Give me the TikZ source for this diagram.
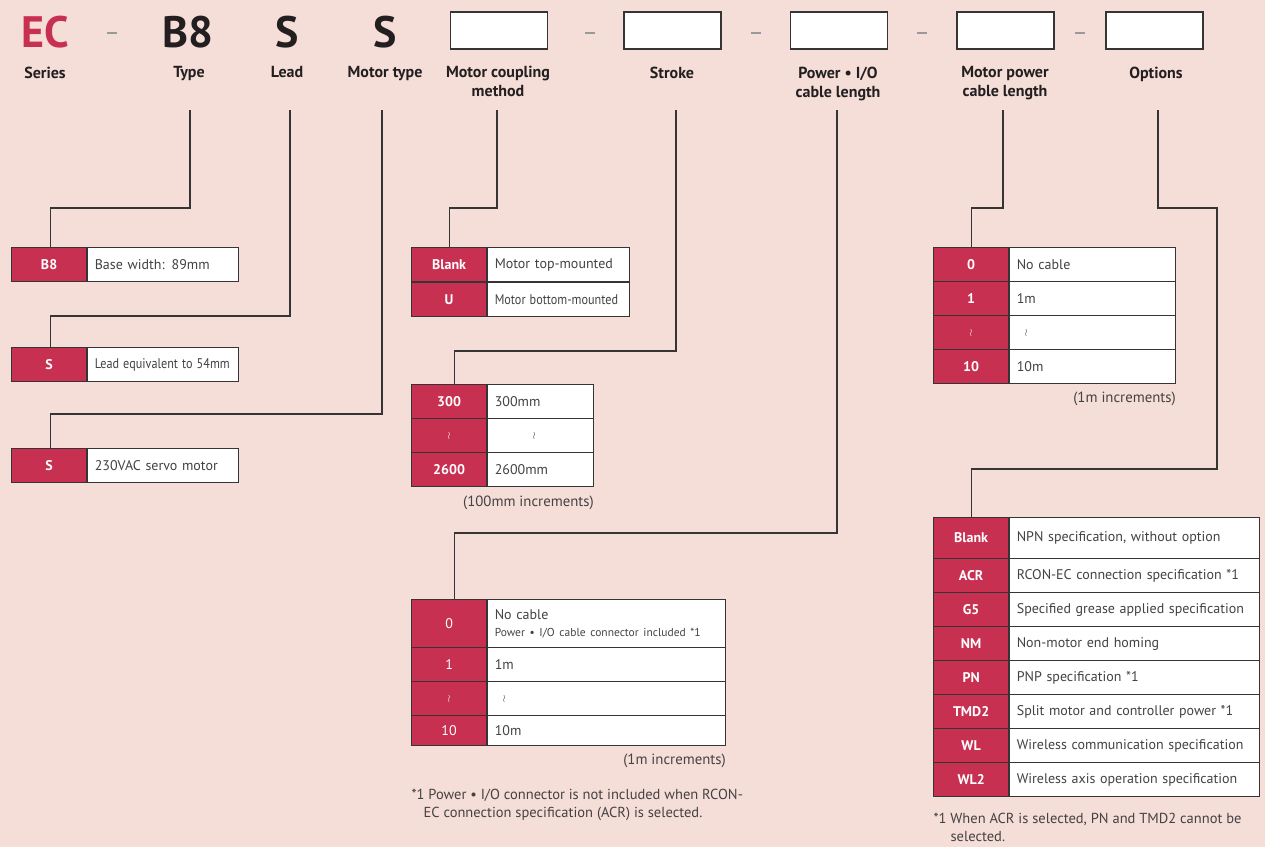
\documentclass[tikz,border=0pt]{standalone}
\usepackage{fontspec}
\usepackage{graphicx}
\setmainfont{PT Sans}
\usetikzlibrary{positioning}

\definecolor{bgpink}{RGB}{245,221,216}
\definecolor{ecred}{RGB}{200,48,82}
\definecolor{linegray}{RGB}{55,52,53}
\definecolor{inkblack}{RGB}{35,31,32}
\definecolor{descgray}{RGB}{68,66,66}

\newcommand\wavy{{\fontsize{10}{10}\selectfont$\wr$}}
\newcommand\narrow[1]{\scalebox{0.87}[1]{#1}}

\begin{document}
\begin{tikzpicture}[x=1pt, y=-1pt, line width=1.2pt,
    every node/.append style={inner sep=0pt},
    hdr/.style={font=\bfseries\fontsize{16}{19}\selectfont, text=inkblack, align=center, anchor=north},
    big/.style={font=\bfseries\fontsize{44}{44}\selectfont, text=inkblack},
    gap/.style={fill=gray!80, minimum width=10, minimum height=1.8},
    slot/.style={draw=linegray, fill=white, minimum width=97, minimum height=37},
    code/.style={draw=linegray, fill=ecred, text=white, font=\bfseries\fontsize{14}{16}\selectfont,
      minimum width=75, minimum height=34, anchor=north west},
    codethin/.style={code, font=\fontsize{14}{16}\selectfont},
    desc/.style={draw=linegray, fill=white, text=descgray, font=\fontsize{14}{17}\selectfont,
      minimum height=34, inner xsep=7pt, text width=#1, align=left, anchor=north west},
    note/.style={text=descgray, font=\fontsize{14.8}{17}\selectfont},
    footnote/.style={note, anchor=north west, align=left, font=\fontsize{14.5}{18}\selectfont},
    link/.style={draw=linegray, line width=1.2pt}]

  \fill[bgpink] (0,0) rectangle (1265,847);
  \useasboundingbox (0,0) rectangle (1265,847);

  % model code
  \node[big, text=ecred] (series) at (45,32) {EC};
  \node[gap] (gap1) at (112,33) {};
  \node[big] (type) at (188,32) {B8};
  \node[big] (lead) at (287,32) {S};
  \node[big] (motor) at (385,32) {S};
  \node[slot] (coupling) at (499,30.5) {};
  \node[gap] (gap2) at (590,33) {};
  \node[slot] (stroke) at (672.5,30.5) {};
  \node[gap] (gap3) at (756,33) {};
  \node[slot] (cable) at (839,30.5) {};
  \node[gap] (gap4) at (922,33) {};
  \node[slot] (mcable) at (1005.5,30.5) {};
  \node[gap] (gap5) at (1080,33) {};
  \node[slot] (option) at (1154.5,30.5) {};

  \node[hdr] (serieslbl) at (45,66) {Series};
  \node[hdr] (typelbl) at (189,66) {Type};
  \node[hdr] (leadlbl) at (287,66) {Lead};
  \node[hdr] (motorlbl) at (385,66) {Motor type};
  \node[hdr] (couplinglbl) at (498,66) {Motor coupling\\method};
  \node[hdr] (strokelbl) at (672,66) {Stroke};
  \node[hdr] (cablelbl) at (838,66) {Power • I/O\\cable length};
  \node[hdr] (mcablelbl) at (1005,66) {Motor power\\cable length};
  \node[hdr] (optionlbl) at (1156,66) {Options};

  % type, lead, motor
  \node[code] (b8) at (11,247) {B8};
  \node[desc=137pt] (b8desc) at (b8.north east) {Base width: 89mm};
  \node[code] (leadS) at (11,347) {S};
  \node[desc=137pt] (leaddesc) at (leadS.north east) {\narrow{Lead equivalent to 54mm}};
  \node[code] (motorS) at (11,448) {S};
  \node[desc=137pt] (motordesc) at (motorS.north east) {230VAC servo motor};

  % coupling
  \node[code] (blank) at (411,247) {Blank};
  \node[desc=128pt] (blankdesc) at (blank.north east) {Motor top-mounted};
  \node[code] (under) at (blank.south west) {U};
  \node[desc=128pt] (underdesc) at (under.north east) {\narrow{Motor bottom-mounted}};

  % stroke
  \foreach \c/\d [count=\i] in {300/300mm, \wavy/\hspace*{38pt}\wavy, 2600/2600mm} {
    \node[code] (stroke\i) at (411,{384+34*(\i-1)}) {\c};
    \node[desc=92pt] (strokedesc\i) at (stroke\i.north east) {\d};
  }
  \node[note, anchor=north east] (strokestep) at ([yshift=-8]strokedesc3.south east) {(100mm increments)};

  % power and I/O cable
  \node[codethin, minimum height=48] (c0) at (411,599) {0};
  \node[desc=224pt, minimum height=48] (c0desc) at (c0.north east)
    {No cable\\{\fontsize{11.5}{14}\selectfont Power • I/O cable connector included *1}};
  \foreach \c/\d/\h [count=\i] in {1/1m/34, \wavy/\hspace*{8pt}\wavy/34, 10/10m/30} {
    \node[codethin, minimum height=\h] (c\i) at (411,{647+34*(\i-1)}) {\c};
    \node[desc=224pt, minimum height=\h] (cdesc\i) at (c\i.north east) {\d};
  }
  \node[note, anchor=north east] (cablestep) at ([yshift=-7]cdesc3.south east) {(1m increments)};
  \node[footnote] (cablenote) at (411,789)
    {*1 Power • I/O connector is not included when RCON-\\\hspace*{12pt}EC connection specification (ACR) is selected.};

  % motor power cable
  \foreach \c/\d [count=\i] in {0/No cable, 1/1m, \wavy/\hspace*{8pt}\wavy, 10/10m} {
    \node[code] (m\i) at (933,{247+34*(\i-1)}) {\c};
    \node[desc=152pt] (mdesc\i) at (m\i.north east) {\d};
  }
  \node[note, anchor=north east] (mcablestep) at ([yshift=-7]mdesc4.south east) {(1m increments)};

  % options
  \node[code, minimum height=41] (oblank) at (933,517) {Blank};
  \node[desc=236pt, minimum height=41] (oblankdesc) at (oblank.north east) {NPN specification, without option};
  \foreach \c/\d [count=\i] in {ACR/RCON-EC connection specification *1,
      G5/Specified grease applied specification, NM/Non-motor end homing,
      PN/PNP specification *1, TMD2/Split motor and controller power *1,
      WL/Wireless communication specification, WL2/Wireless axis operation specification} {
    \node[code] (o\i) at (933,{558+34*(\i-1)}) {\c};
    \node[desc=236pt] (odesc\i) at (o\i.north east) {\d};
  }
  \node[footnote] (optionnote) at (933,813)
    {*1 When ACR is selected, PN and TMD2 cannot be\\\hspace*{17pt}selected.};

  % leaders
  \coordinate (typedrop) at (190,110);
  \coordinate (leaddrop) at (290,110);
  \coordinate (motordrop) at (382,110);
  \coordinate (couplingdrop) at (497,110);
  \coordinate (strokedrop) at (676,110);
  \coordinate (cabledrop) at (837,110);
  \coordinate (mcabledrop) at (1003,110);
  \coordinate (optiondrop) at (1158,110);
  \draw[link] (typedrop) -- ++(0,98) -| ([xshift=1.5]b8.north);
  \draw[link] (leaddrop) -- ++(0,206) -| ([xshift=1.5]leadS.north);
  \draw[link] (motordrop) -- ++(0,304) -| ([xshift=1.5]motorS.north);
  \draw[link] (couplingdrop) -- ++(0,98) -| (blank.north);
  \draw[link] (strokedrop) -- ++(0,241) -| ([xshift=5]stroke1.north);
  \draw[link] (cabledrop) -- ++(0,423) -| ([xshift=5]c0.north);
  \draw[link] (mcabledrop) -- ++(0,98) -| (m1.north);
  \draw[link] (optiondrop) -- ++(0,98) -- ++(59,0) -- ++(0,261) -| (oblank.north);
\end{tikzpicture}
\end{document}
